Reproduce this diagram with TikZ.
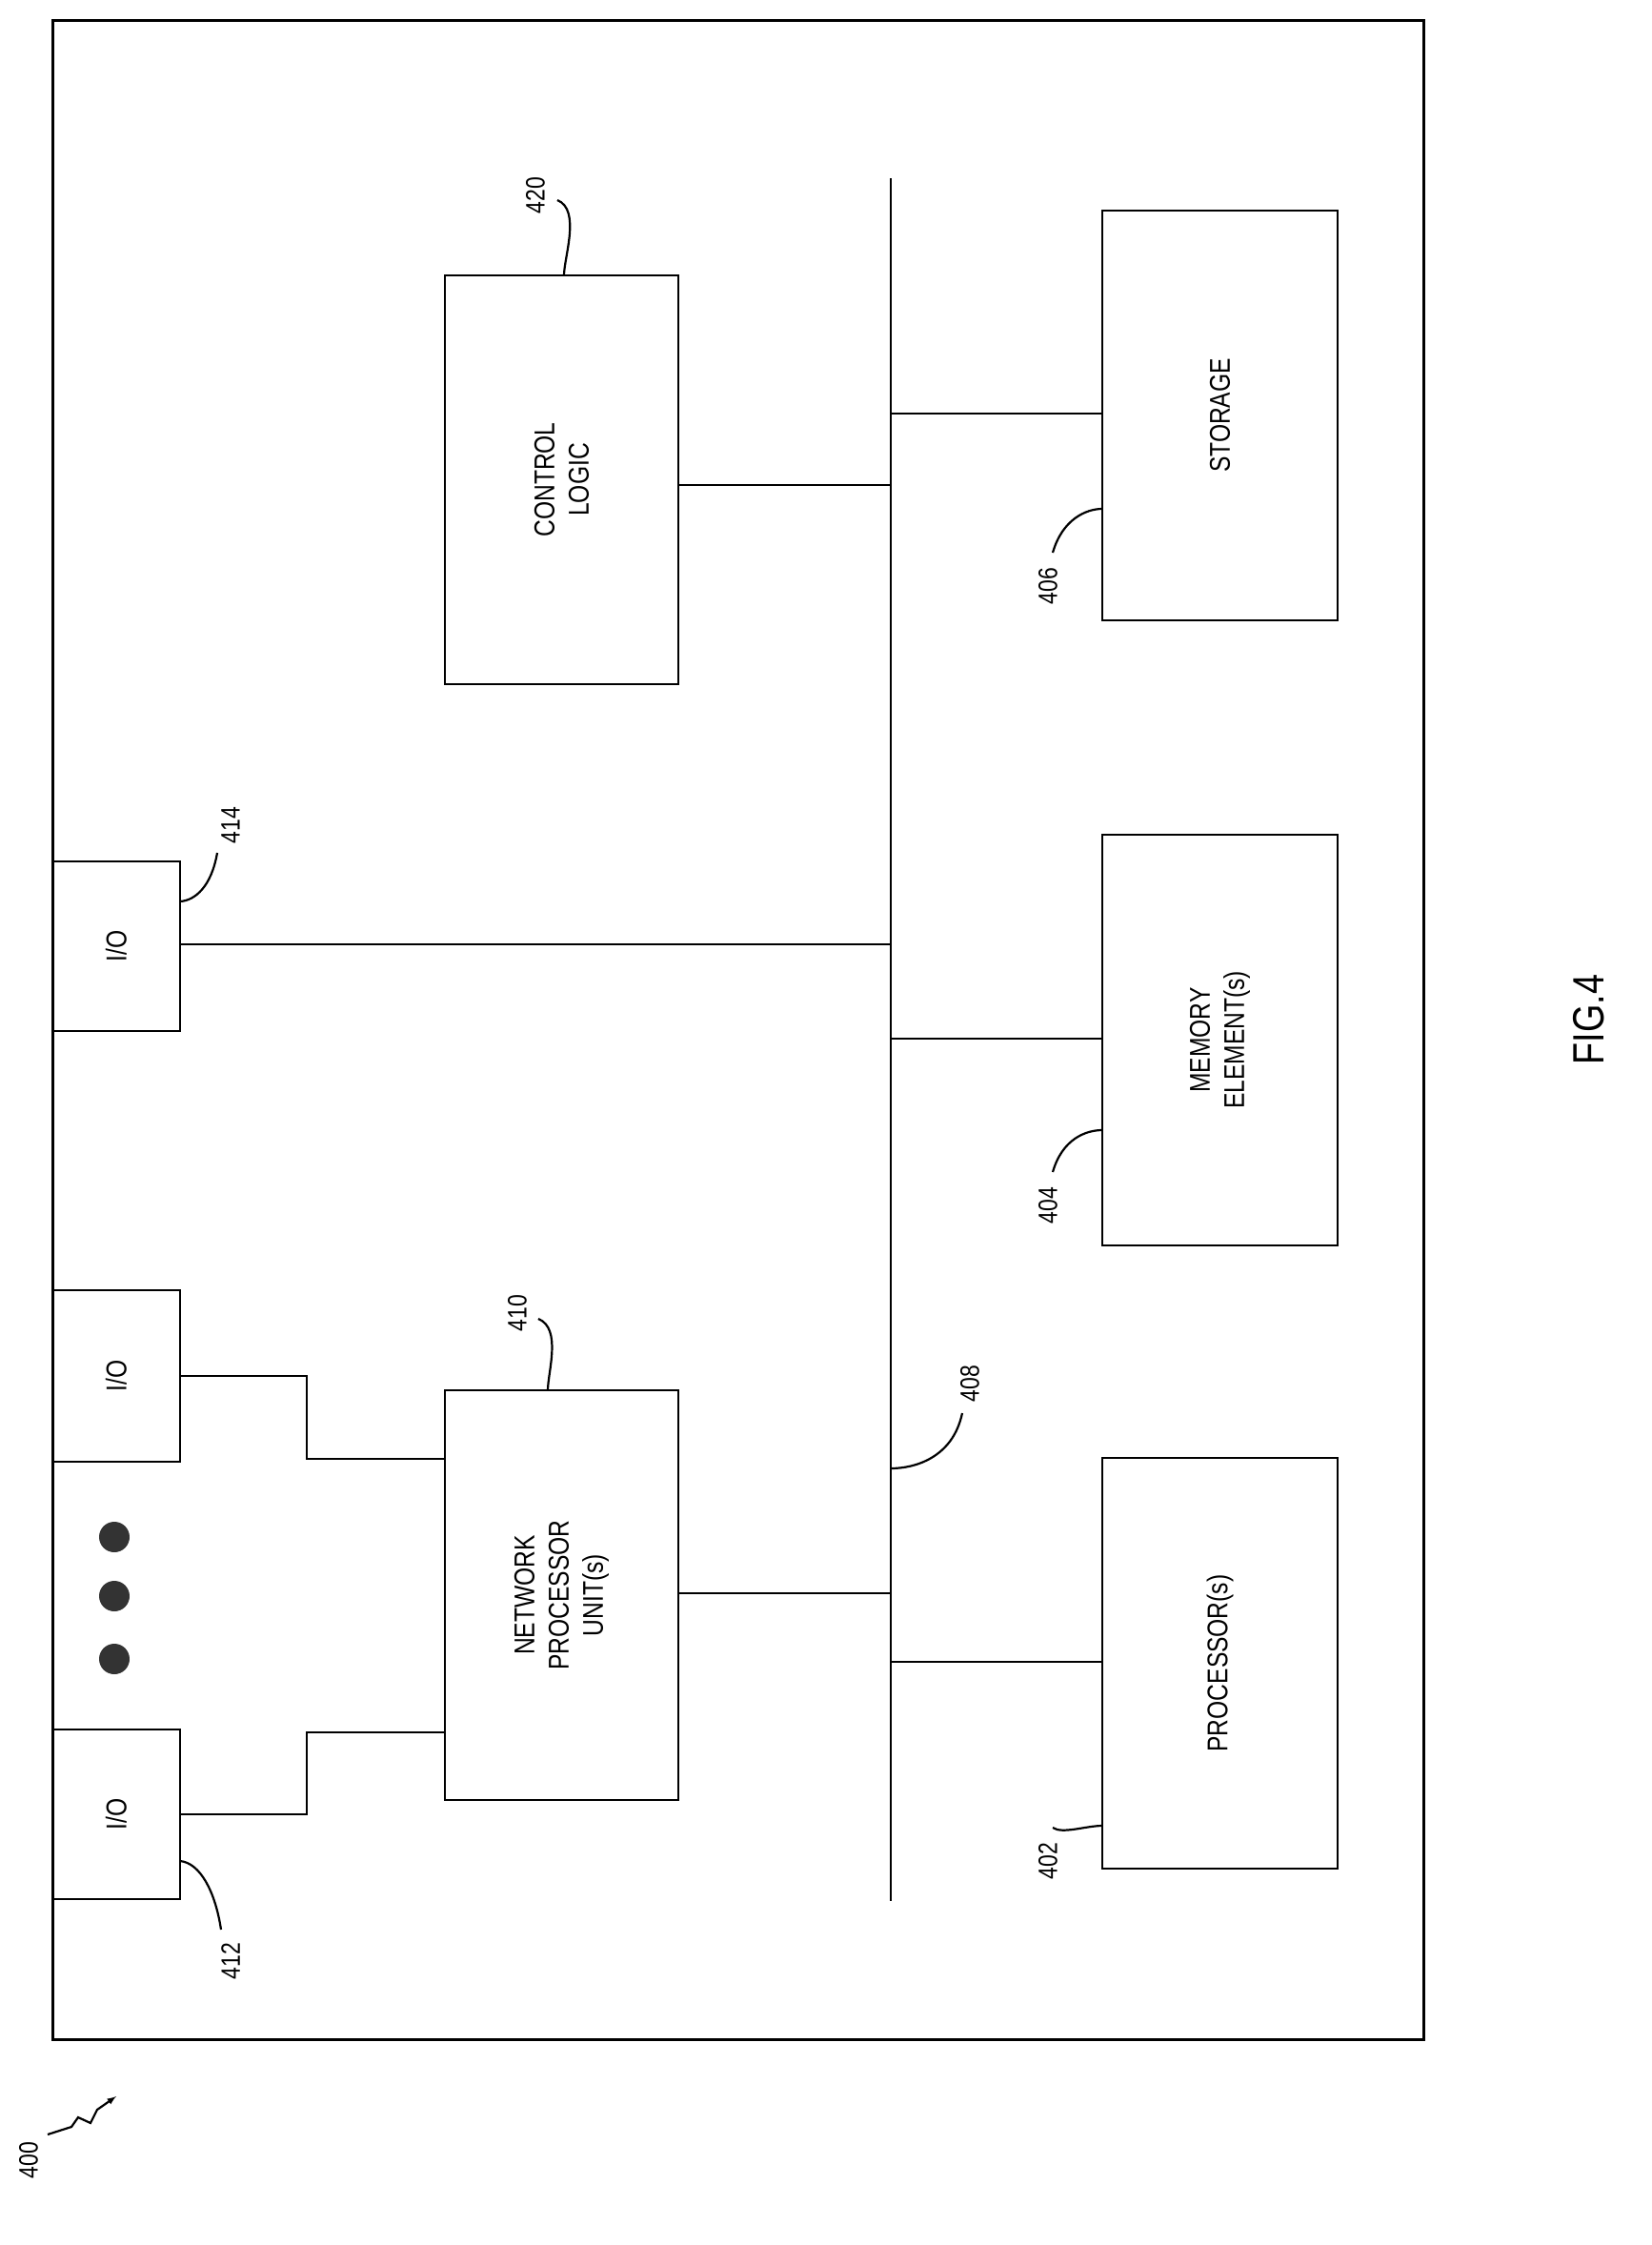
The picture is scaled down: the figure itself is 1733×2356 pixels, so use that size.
\documentclass[tikz,border=0pt]{standalone}
\usepackage{fontspec}
\setmainfont{Liberation Sans}
\begin{document}
\begin{tikzpicture}[x=1pt,y=-1pt,line width=2.6pt,
  box/.style={draw,minimum width=0pt},
  txt/.style={rotate=90,align=center,font=\fontsize{30}{36}\selectfont,xscale=0.82},
  lab/.style={rotate=90,font=\fontsize{28}{32}\selectfont,xscale=0.82},
  lead/.style={line width=2.2pt}]
\useasboundingbox (0,0) rectangle (1733,2356);
\draw[line width=3pt] (55,21) rectangle (1494,2140);
% bus
\coordinate (bt) at (935,187); \coordinate (bb) at (935,1995);
\draw (bt) -- (bb);
% boxes
\node[box,minimum width=245,minimum height=429] (cl) at (589.5,503.5) {};
\node[txt] at (cl) {CONTROL\\LOGIC};
\node[box,minimum width=247,minimum height=430] (st) at (1280.5,436) {};
\node[txt] at (st) {STORAGE};
\node[box,minimum width=247,minimum height=431] (me) at (1280.5,1091.5) {};
\node[txt] at (me) {MEMORY\\ELEMENT(s)};
\node[box,minimum width=247,minimum height=431] (pr) at (1280.5,1745.5) {};
\node[txt] at (pr) {PROCESSOR(s)};
\node[box,minimum width=245,minimum height=430] (np) at (589.5,1674) {};
\node[txt] at (np) {NETWORK\\PROCESSOR\\UNIT(s)};
\node[box,minimum width=134,minimum height=178] (io3) at (122,993) {};
\node[txt] at (io3) {I/O};
\node[box,minimum width=134,minimum height=180] (io2) at (122,1444) {};
\node[txt] at (io2) {I/O};
\node[box,minimum width=134,minimum height=178] (io1) at (122,1904) {};
\node[txt] at (io1) {I/O};
% connections
\coordinate (c1) at (935,509); \draw (cl.east |- c1) -- (c1);
\coordinate (c2) at (935,434); \draw (c2) -- (st.west |- c2);
\coordinate (c3) at (935,1090); \draw (c3) -- (me.west |- c3);
\coordinate (c4) at (935,1744); \draw (c4) -- (pr.west |- c4);
\coordinate (c5) at (935,1672); \draw (np.east |- c5) -- (c5);
\coordinate (c6) at (935,991); \draw (io3.east |- c6) -- (c6);
\draw (io2.east) -- (322,1444) -- (322,1531) -- (np.west |- 0,1531);
\draw (io1.east) -- (322,1904) -- (322,1818) -- (np.west |- 0,1818);
% dots
\foreach \y in {1613,1675,1741} \fill[black!80] (120,\y) circle (16);
% labels
\node[lab] (l420) at (562,205) {420};
\draw[lead] (585,210) .. controls (610,220) and (592,270) .. (592,289);
\node[lab] (l410) at (543,1378) {410};
\draw[lead] (565,1384) .. controls (590,1394) and (575,1440) .. (575,1459);
\node[lab] (l414) at (242,866) {414};
\draw[lead] (228,895) .. controls (222,930) and (205,945) .. (189,946);
\node[lab] (l412) at (242,2058) {412};
\draw[lead] (232,2025) .. controls (226,1985) and (210,1955) .. (189,1953);
\node[lab] (l408) at (1018,1452) {408};
\draw[lead] (1010,1483) .. controls (1000,1530) and (960,1541) .. (935,1541);
\node[lab] (l406) at (1100,615) {406};
\draw[lead] (1105,580) .. controls (1115,545) and (1140,534) .. (1157,534);
\node[lab] (l404) at (1100,1265) {404};
\draw[lead] (1105,1230) .. controls (1115,1195) and (1140,1186) .. (1157,1186);
\node[lab] (l402) at (1100,1953) {402};
\draw[lead] (1105,1918) .. controls (1115,1925) and (1140,1916) .. (1157,1916);
\node[lab] (l400) at (30,2267) {400};
\draw[lead,-latex] (50,2240) -- (75,2232) -- (82,2222) -- (95,2228) -- (102,2214) -- (122,2200);
\node[rotate=90,font=\fontsize{46}{50}\selectfont,xscale=0.82] (fig) at (1668,1070) {FIG.4};
\end{tikzpicture}
\end{document}
